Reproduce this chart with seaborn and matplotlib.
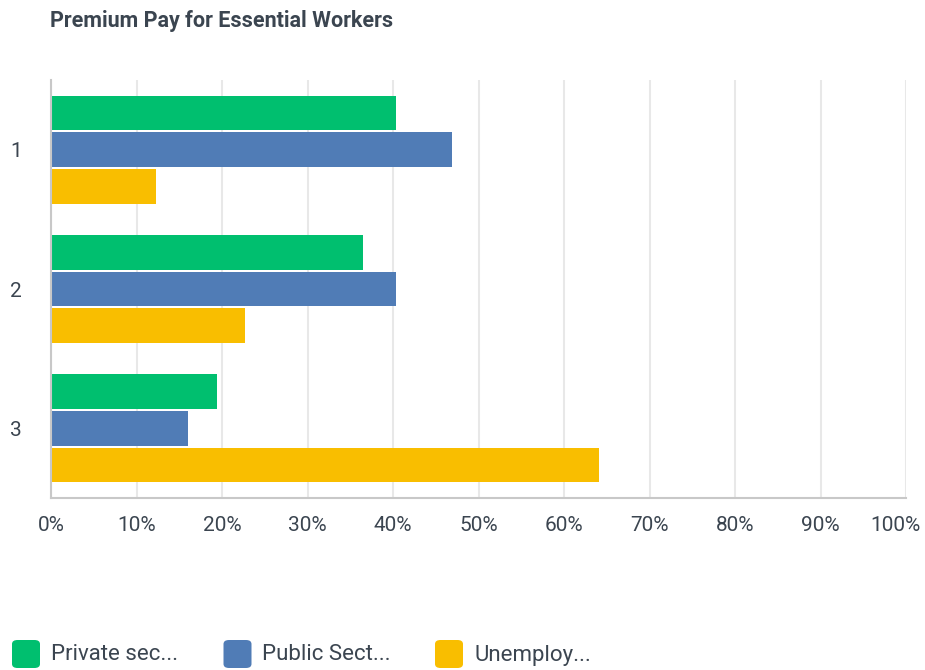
import pandas as pd
import matplotlib.pyplot as plt
import seaborn as sns
from matplotlib.patches import FancyBboxPatch
from matplotlib.ticker import PercentFormatter
from matplotlib.transforms import ScaledTranslation

# data
ranks = ['1', '2', '3']
private_sector = [40.4, 36.5, 19.4]
public_sector = [46.9, 40.4, 16.0]
unemployed = [12.3, 22.7, 64.1]

groups = ['Private sec...', 'Public Sect...', 'Unemploy...']
colors = ['#00bf6f', '#507cb6', '#f9be00']

df = pd.DataFrame({
    'rank': ranks * 3,
    'pct': private_sector + public_sector + unemployed,
    'group': [g for g in groups for _ in ranks],
})

sns.set_style('white')
plt.rcParams['font.family'] = ['Roboto', 'DejaVu Sans']
text_color = '#3b4550'
W, H = 925, 670

fig = plt.figure(figsize=(W / 100, H / 100), dpi=100)
ax = fig.add_axes([51 / W, 1 - 498 / H, 855 / W, 418 / H])

sns.barplot(data=df, x='pct', y='rank', hue='group', orient='h',
            palette=colors, width=0.79, gap=0.06, saturation=1,
            linewidth=0, legend=False, ax=ax)

ax.set_xlim(0, 100)
ax.set_ylim(2.5, -0.5)
ax.set_xticks(range(0, 101, 10))
ax.xaxis.set_major_formatter(PercentFormatter(decimals=0))
ax.grid(axis='x', color='#e8e8e8', linewidth=1.5)
ax.set_axisbelow(True)
ax.set_xlabel('')
ax.set_ylabel('')
for side in ['top', 'right']:
    ax.spines[side].set_visible(False)
for side in ['left', 'bottom']:
    ax.spines[side].set_color('#c8c8c8')
    ax.spines[side].set_linewidth(1.5)
ax.tick_params(axis='x', length=0, pad=13, labelsize=15, labelcolor=text_color)
ax.tick_params(axis='y', length=0, pad=21, labelsize=15, labelcolor=text_color)

# last tick label is pulled inside the figure like in the original
fig.canvas.draw()
last = ax.get_xticklabels()[-1]
last.set_transform(last.get_transform() + ScaledTranslation(-11 / 100, 0, fig.dpi_scale_trans))

# legend row at the bottom: rounded swatches
for i, (label, color) in enumerate(zip(groups, colors)):
    x0 = 12 + i * 211.5
    fig.patches.append(FancyBboxPatch(
        (x0 / W, 1 - 668 / H), 28 / W, 28 / H,
        boxstyle='round,pad=0,rounding_size=0.006',
        transform=fig.transFigure, facecolor=color, edgecolor='none'))
    fig.text((x0 + 39) / W, 1 - 655 / H, label, fontsize=16,
             color=text_color, va='center')

fig.text(50 / W, 1 - 27 / H, 'Premium Pay for Essential Workers',
         fontsize=15.5, fontweight='bold', color=text_color)

fig.savefig('out.png', dpi=100)
